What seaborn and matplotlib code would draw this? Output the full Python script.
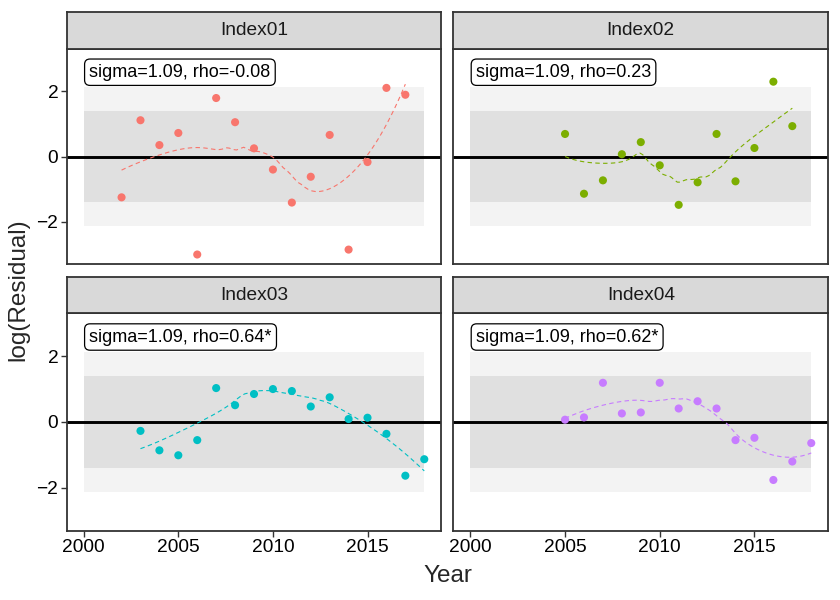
import numpy as np
import pandas as pd
import matplotlib
matplotlib.use("Agg")
import matplotlib.pyplot as plt
import seaborn as sns

# -----------------------------
# DATA
# -----------------------------
fleets = ["Index01", "Index02", "Index03", "Index04"]
colors = ["#F8766D", "#7CAE00", "#00BFC4", "#C77CFF"]
labels = ["sigma=1.09, rho=-0.08", "sigma=1.09, rho=0.23",
          "sigma=1.09, rho=0.64*", "sigma=1.09, rho=0.62*"]

years01 = list(range(2002, 2018))
resid01 = [-1.25, 1.11, 0.35, 0.72, -3.00, 1.79, 1.05, 0.25,
           -0.40, -1.41, -0.62, 0.66, -2.85, -0.17, 2.10, 1.89]

years02 = list(range(2005, 2018))
resid02 = [0.69, -1.14, -0.73, 0.07, 0.44, -0.27, -1.48, -0.79,
           0.69, -0.76, 0.26, 2.29, 0.93]

years03 = list(range(2003, 2019))
resid03 = [-0.27, -0.86, -1.01, -0.55, 1.03, 0.51, 0.85, 1.00,
           0.94, 0.47, 0.75, 0.09, 0.13, -0.36, -1.63, -1.13]

years04 = list(range(2005, 2019))
resid04 = [0.07, 0.14, 1.19, 0.26, 0.29, 1.19, 0.41, 0.63,
           0.41, -0.55, -0.48, -1.76, -1.20, -0.64]

band_outer = 2.13   # light grey band
band_inner = 1.39   # dark grey band
band_years = [2000, 2018]

df = pd.concat([
    pd.DataFrame({"Fleet": f, "Year": y, "Resid": r})
    for f, y, r in zip(fleets, [years01, years02, years03, years04],
                       [resid01, resid02, resid03, resid04])
], ignore_index=True)


# simple loess (local quadratic, tricube weights), like geom_smooth default
def loess(x, y, span=0.75, n_out=80):
    x = np.asarray(x, float)
    y = np.asarray(y, float)
    n = len(x)
    q = int(np.floor(n * span))
    xs = np.linspace(x.min(), x.max(), n_out)
    out = []
    for x0 in xs:
        d = np.abs(x - x0)
        dmax = np.sort(d)[q - 1] * 1.0001
        w = np.clip(1 - (d / dmax) ** 3, 0, None) ** 3
        X = np.vstack([np.ones(n), x - x0, (x - x0) ** 2]).T
        W = np.diag(w)
        beta = np.linalg.lstsq(X.T @ W @ X, X.T @ W @ y, rcond=None)[0]
        out.append(beta[0])
    return xs, np.array(out)


# -----------------------------
# PLOT
# -----------------------------
sns.set_theme(style="white")
plt.rcParams["font.family"] = ["Liberation Sans", "DejaVu Sans"]

fig = plt.figure(figsize=(8.4, 6), dpi=100)
W, H = 840, 600
lefts = [66.7, 453.3]
rights = [441.3, 828.3]
tops = [48.7, 313.3]
bottoms = [264.3, 530.7]
strip_h = 36.5

for i, fleet in enumerate(fleets):
    r, c = divmod(i, 2)
    x0, x1 = lefts[c] / W, rights[c] / W
    y0, y1 = 1 - bottoms[r] / H, 1 - tops[r] / H
    ax = fig.add_axes([x0, y0, x1 - x0, y1 - y0])
    sax = fig.add_axes([x0, y1, x1 - x0, strip_h / H])

    sub = df[df["Fleet"] == fleet]
    ax.fill_between(band_years, -band_outer, band_outer, color="#F3F3F3", lw=0, zorder=0)
    ax.fill_between(band_years, -band_inner, band_inner, color="#E0E0E0", lw=0, zorder=0)
    ax.axhline(0, color="black", lw=2.1, zorder=1)

    lx, ly = loess(sub["Year"], sub["Resid"])
    sns.lineplot(x=lx, y=ly, ax=ax, color=colors[i], lw=0.8,
                 dashes=False, linestyle=(0, (4, 3)), zorder=2)
    sns.scatterplot(data=sub, x="Year", y="Resid", ax=ax, color=colors[i],
                    s=34, edgecolor="none", zorder=3)

    ax.annotate(labels[i], xy=(2000, 2.58), xytext=(4.0, 0),
                textcoords="offset points", ha="left", va="center",
                fontsize=13, color="black",
                bbox=dict(boxstyle="round,pad=0.26,rounding_size=0.3",
                          fc="white", ec="black", lw=0.9))

    ax.set_xlim(1999.1, 2018.9)
    ax.set_ylim(-3.3, 3.3)
    ax.set_xticks([2000, 2005, 2010, 2015])
    ax.set_yticks([-2, 0, 2])
    ax.set_xlabel("")
    ax.set_ylabel("")
    ax.tick_params(axis="both", length=4, width=1, color="#333333",
                   labelsize=13.8, labelcolor="black", pad=2, direction="out")
    ax.tick_params(axis="x", bottom=(r == 1), labelbottom=(r == 1))
    ax.tick_params(axis="y", left=(c == 0), labelleft=(c == 0))
    for sp in ax.spines.values():
        sp.set_color("#333333")
        sp.set_linewidth(1.3)
    ax.set_facecolor("white")

    sax.set_facecolor("#D9D9D9")
    sax.set_xticks([])
    sax.set_yticks([])
    for sp in sax.spines.values():
        sp.set_color("#333333")
        sp.set_linewidth(1.3)
    sax.text(0.5, 0.5, fleet, ha="center", va="center", fontsize=13.8,
             color="#1A1A1A", transform=sax.transAxes)

fig.text(447.5 / W, 1 - 576 / H, "Year", ha="center", va="center", fontsize=17.5)
fig.text(18 / W, 1 - 290 / H, "log(Residual)", ha="center", va="center",
         rotation=90, fontsize=17.5)

fig.savefig("out.png", dpi=100, facecolor="white")
